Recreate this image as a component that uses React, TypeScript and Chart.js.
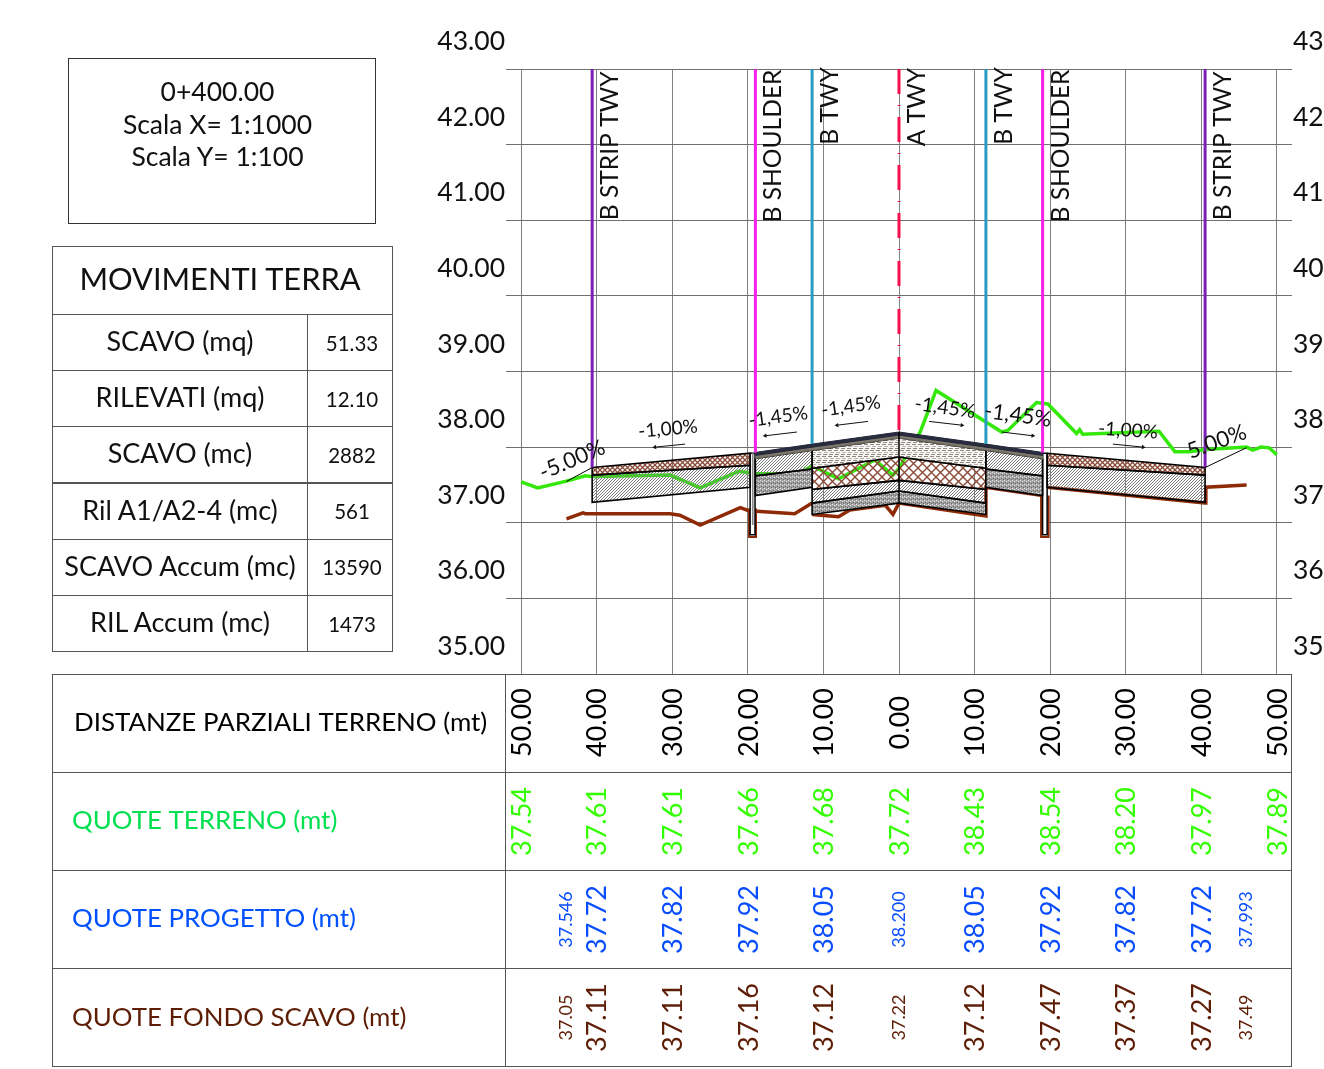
import React, { useEffect, useRef } from "react";
import { Chart, registerables } from "chart.js";

Chart.register(...registerables);

const FONT = "Lato";

// ---- data ----
const stations = [-50, -40, -30, -20, -10, 0, 10, 20, 30, 40, 50];
const distanze = ["50.00", "40.00", "30.00", "20.00", "10.00", "0.00", "10.00", "20.00", "30.00", "40.00", "50.00"];
const quoteTerreno = ["37.54", "37.61", "37.61", "37.66", "37.68", "37.72", "38.43", "38.54", "38.20", "37.97", "37.89"];
const quoteProgetto = [null, "37.72", "37.82", "37.92", "38.05", null, "38.05", "37.92", "37.82", "37.72", null];
const quoteFondo = [null, "37.11", "37.11", "37.16", "37.12", null, "37.12", "37.47", "37.37", "37.27", null];
const progettoExtra: [number, string][] = [[-44, "37.546"], [0, "38.200"], [46, "37.993"]];
const fondoExtra: [number, string][] = [[-44, "37.05"], [0, "37.22"], [46, "37.49"]];

const leftTicks = [43, 42, 41, 40, 39, 38, 37, 36, 35];

type P = [number, number];

const terrain: P[] = [[-50, 37.54], [-47.8, 37.46], [-44, 37.55], [-41.5, 37.62], [-40.6, 37.61], [-30.3, 37.63], [-26.3, 37.46], [-21.2, 37.68], [-19, 37.65], [-13.5, 37.64], [-11.5, 37.75], [-8, 37.58], [-3.2, 37.83], [-0.8, 37.63], [0, 37.72], [2.8, 38.2], [4.9, 38.75], [13.6, 38.2], [14.4, 38.22], [18.2, 38.59], [19.7, 38.57], [23.5, 38.18], [23.9, 38.23], [24.3, 38.17], [34.4, 38.21], [36.5, 37.94], [38.4, 37.94], [40.5, 37.97], [46, 38.0], [46.8, 37.96], [47.9, 38.0], [49, 37.99], [50, 37.9]];
const fondoLeft: P[] = [[-44, 37.05], [-41.8, 37.13], [-41.5, 37.12], [-30.3, 37.12], [-29, 37.1], [-26.3, 36.97], [-21, 37.2], [-19.9, 37.16], [-13.8, 37.12], [-11.5, 37.26]];
const fondoMid: P[] = [[-11.5, 37.11], [-8, 37.08], [-6.5, 37.17], [-1.8, 37.23], [-0.8, 37.11], [0, 37.26], [11.5, 37.09], [11.5, 37.47], [19, 37.36]];
const fondoRight: P[] = [[19.6, 37.47], [40.5, 37.26], [40.6, 37.47], [46, 37.5]];
const slopeLeft: P[] = [[-44, 37.546], [-40.6, 37.73]];
const slopeRight: P[] = [[40.5, 37.73], [46, 37.993]];

const asphalt: P[] = [[-19, 37.93], [-11.5, 38.04], [0, 38.2], [11.5, 38.04], [19, 37.93], [19, 37.89], [11.5, 38.0], [0, 38.16], [-11.5, 38.0], [-19, 37.89]];
const binder: P[] = [[-19, 37.89], [-11.5, 38.0], [0, 38.16], [11.5, 38.0], [19, 37.89], [19, 37.85], [11.5, 37.96], [0, 38.12], [-11.5, 37.96], [-19, 37.85]];
const brownL: P[] = [[-40.6, 37.73], [-19.7, 37.92], [-19.7, 37.76], [-40.6, 37.63], [-40.6, 37.73]];
const hatchL: P[] = [[-40.6, 37.63], [-19.7, 37.76], [-19.7, 37.47], [-40.6, 37.27], [-40.6, 37.63]];
const brownR: P[] = [[19.6, 37.92], [40.5, 37.73], [40.5, 37.63], [19.6, 37.76], [19.6, 37.92]];
const hatchR: P[] = [[19.6, 37.76], [40.5, 37.63], [40.5, 37.27], [19.6, 37.47], [19.6, 37.76]];
const midHatchL: P[] = [[-19, 37.85], [-11.5, 37.96], [-11.5, 37.71], [-19, 37.62], [-19, 37.85]];
const midDotL: P[] = [[-19, 37.62], [-11.5, 37.71], [-11.5, 37.47], [-19, 37.36], [-19, 37.62]];
const midHatchR: P[] = [[11.5, 37.96], [19, 37.85], [19, 37.62], [11.5, 37.71], [11.5, 37.96]];
const midDotR: P[] = [[11.5, 37.71], [19, 37.62], [19, 37.36], [11.5, 37.47], [11.5, 37.71]];
const coreStripes: P[] = [[-11.5, 37.96], [0, 38.12], [11.5, 37.96], [11.5, 37.72], [0, 37.87], [-11.5, 37.72], [-11.5, 37.96]];
const coreBrown: P[] = [[-11.5, 37.72], [0, 37.87], [11.5, 37.72], [11.5, 37.44], [0, 37.56], [-11.5, 37.44], [-11.5, 37.72]];
const coreHatch: P[] = [[-11.5, 37.44], [0, 37.56], [11.5, 37.44], [11.5, 37.26], [0, 37.42], [-11.5, 37.26], [-11.5, 37.44]];
const coreDot: P[] = [[-11.5, 37.26], [0, 37.42], [11.5, 37.26], [11.5, 37.11], [0, 37.26], [-11.5, 37.11], [-11.5, 37.26]];
const centerCut: P[] = [[0, 38.2], [0, 37.26]];
const slitL: P[] = [[-19.7, 37.92], [-19.05, 37.92], [-19.05, 36.84], [-19.7, 36.84], [-19.7, 37.92]];
const slitR: P[] = [[19, 37.92], [19.6, 37.92], [19.6, 36.84], [19, 36.84], [19, 37.92]];
const trenchL: P[] = [[-19.84, 37.19], [-19.84, 36.81], [-18.92, 36.81], [-18.92, 37.19]];
const trenchR: P[] = [[18.8, 37.36], [18.8, 36.81], [19.8, 36.81], [19.8, 37.36]];
const slitCoreL: P[] = [[-19.35, 37.92], [-19.35, 36.97]];

const purpleL: P[] = [[-40.6, 43], [-40.6, 37.73]];
const magentaL: P[] = [[-19, 43], [-19, 37.93]];
const cyanL: P[] = [[-11.5, 43], [-11.5, 38.04]];
const redCenter: P[] = [[0, 43], [0, 38.2]];
const cyanR: P[] = [[11.5, 43], [11.5, 38.04]];
const magentaR: P[] = [[19, 43], [19, 37.93]];
const purpleR: P[] = [[40.5, 43], [40.5, 37.73]];

const arrows: [P, P][] = [
  [[-28.3, 38.04], [-32.3, 38.0]],
  [[-13.5, 38.2], [-17.7, 38.15]],
  [[-4.1, 38.34], [-8.2, 38.29]],
  [[3.97, 38.34], [8.33, 38.29]],
  [[13.6, 38.2], [17.7, 38.15]],
  [[28.3, 38.04], [32.3, 38.0]],
];

const slopeTexts: [string, number, number, number, number][] = [
  ["-5.00%", -43.25, 37.83, -23, 22],
  ["-1,00%", -30.56, 38.24, -5, 19],
  ["-1,45%", -16, 38.4, -8, 19],
  ["-1,45%", -6.35, 38.54, -8, 19],
  ["-1,45%", 6.08, 38.52, 8, 19.5],
  ["-1,45%", 15.74, 38.42, 8, 21.5],
  ["-1,00%", 30.3, 38.22, 4, 19],
  ["5.00%", 42.06, 38.07, -20, 22],
];

const stationLabels: [string, number, number][] = [
  ["B STRIP TWY", -40.6, 41.0],
  ["B SHOULDER", -19, 40.97],
  ["B TWY", -11.5, 42.0],
  ["A TWY", 0, 41.98],
  ["B TWY", 11.5, 42.0],
  ["B SHOULDER", 19, 40.97],
  ["B STRIP TWY", 40.5, 41.0],
];

const infoLines = ["0+400.00", "Scala X= 1:1000", "Scala Y= 1:100"];
const earthLabels = ["SCAVO (mq)", "RILEVATI (mq)", "SCAVO (mc)", "Ril A1/A2-4 (mc)", "SCAVO Accum (mc)", "RIL Accum (mc)"];
const earthValues = ["51.33", "12.10", "2882", "561", "13590", "1473"];

// ---- layout / style ----
const COL_GREEN = "#33ff00";
const COL_BLUE = "#0a4dff";
const COL_BROWN = "#5e1d05";
const ROW_Y = [674, 772, 870, 968, 1066];
const ROW_MID = [722.5, 821.5, 919.5, 1017.5];
const TITLE_MID = [722.5, 820.5, 918.5, 1017.5];

function pattern(size: number, paint: (c: CanvasRenderingContext2D) => void) {
  const cv = document.createElement("canvas");
  cv.width = size;
  cv.height = size;
  const c = cv.getContext("2d")!;
  paint(c);
  return c.createPattern(cv, "repeat")!;
}

function makePatterns() {
  const hatch = pattern(3, (c) => {
    c.strokeStyle = "#7a7a7a";
    c.lineWidth = 1;
    c.beginPath();
    c.moveTo(-1, 4); c.lineTo(4, -1);
    c.moveTo(-1, 1); c.lineTo(1, -1);
    c.moveTo(2, 4); c.lineTo(4, 2);
    c.stroke();
  });
  const fineCross = pattern(5, (c) => {
    c.strokeStyle = "#8a4a38";
    c.lineWidth = 1.3;
    c.beginPath();
    c.moveTo(-1, 6); c.lineTo(6, -1);
    c.moveTo(-1, -1); c.lineTo(6, 6);
    c.stroke();
  });
  const cross = pattern(9, (c) => {
    c.strokeStyle = "#8a4a38";
    c.lineWidth = 1.4;
    c.beginPath();
    c.moveTo(-1, 10); c.lineTo(10, -1);
    c.moveTo(-1, -1); c.lineTo(10, 10);
    c.stroke();
  });
  const dots = pattern(4, (c) => {
    c.fillStyle = "#a0a0a0";
    c.fillRect(0, 0, 4, 4);
    c.fillStyle = "#ececec";
    c.fillRect(0, 0, 1, 1);
    c.fillRect(2, 1, 1, 1);
    c.fillStyle = "#6a6a6a";
    c.fillRect(1, 2, 1, 1);
    c.fillRect(3, 3, 1, 1);
  });
  const stripes = pattern(6, (c) => {
    c.fillStyle = "#f7f6f4";
    c.fillRect(0, 0, 6, 6);
    c.fillStyle = "#8e877c";
    c.fillRect(0, 0, 4, 1);
    c.fillStyle = "#b9b5ae";
    c.fillRect(2, 2, 4, 1);
    c.fillStyle = "#8e877c";
    c.fillRect(1, 4, 4, 1);
  });
  return { hatch, cross, fineCross, dots, stripes };
}

const xy = (a: P[]) => a.map(([x, y]) => ({ x, y }));

function line(a: P[], color: string, width: number, extra: object = {}) {
  return { data: xy(a), borderColor: color, borderWidth: width, showLine: true, pointRadius: 0, fill: false, tension: 0, ...extra };
}
function poly(a: P[], bg: any, stroke = "#000", width = 1.6) {
  return { data: xy(a), borderColor: stroke, borderWidth: width, backgroundColor: bg, showLine: true, pointRadius: 0, fill: "shape", tension: 0 };
}

function textRot(c: CanvasRenderingContext2D, s: string, x: number, y: number, deg: number, font: string, color: string, align: CanvasTextAlign = "center") {
  c.save();
  c.translate(x, y);
  c.rotate((deg * Math.PI) / 180);
  c.font = font;
  c.fillStyle = color;
  c.textAlign = align;
  c.textBaseline = "middle";
  c.fillText(s, 0, 0);
  c.restore();
}

const sheetPlugin = {
  id: "sheet",
  afterDraw(chart: any) {
    const c: CanvasRenderingContext2D = chart.ctx;
    const X = chart.scales.x;
    const Y = chart.scales.y;
    // station labels
    for (const [s, xv, yv] of stationLabels) {
      textRot(c, s, X.getPixelForValue(xv) + 18, Y.getPixelForValue(yv), -90, `24.6px ${FONT}`, "#111", "left");
    }
    // slope labels
    for (const [s, xv, yv, a, size] of slopeTexts) {
      textRot(c, s, X.getPixelForValue(xv), Y.getPixelForValue(yv), a, `${size}px ${FONT}`, "#111");
    }
    // lower table grid
    c.save();
    c.strokeStyle = "#555";
    c.lineWidth = 1;
    c.beginPath();
    for (const y of ROW_Y) {
      c.moveTo(52, y + 0.5);
      c.lineTo(1292, y + 0.5);
    }
    c.moveTo(52.5, ROW_Y[0]);
    c.lineTo(52.5, ROW_Y[4]);
    c.moveTo(505.5, ROW_Y[0]);
    c.lineTo(505.5, ROW_Y[4]);
    c.moveTo(1291.5, ROW_Y[0]);
    c.lineTo(1291.5, ROW_Y[4]);
    c.stroke();
    c.restore();
    // row titles
    const titles: [string, string, number][] = [
      ["DISTANZE PARZIALI TERRENO (mt)", "#000", 74],
      ["QUOTE TERRENO (mt)", "#00e050", 72],
      ["QUOTE PROGETTO (mt)", "#0050ff", 72],
      ["QUOTE FONDO SCAVO (mt)", COL_BROWN, 72],
    ];
    titles.forEach(([s, col, x], i) => textRot(c, s, x, TITLE_MID[i], 0, `25.9px ${FONT}`, col, "left"));
    // row numbers
    const big = `27px ${FONT}`;
    const small = `18px ${FONT}`;
    const rows: [(string | null)[], string][] = [
      [distanze, "#000"],
      [quoteTerreno, COL_GREEN],
      [quoteProgetto, COL_BLUE],
      [quoteFondo, COL_BROWN],
    ];
    rows.forEach(([vals, col], r) => {
      vals.forEach((v, i) => {
        if (v) textRot(c, v, X.getPixelForValue(stations[i]) + 1, ROW_MID[r], -90, big, col);
      });
    });
    for (const [xv, s] of progettoExtra) textRot(c, s, X.getPixelForValue(xv), ROW_MID[2], -90, small, COL_BLUE);
    for (const [xv, s] of fondoExtra) textRot(c, s, X.getPixelForValue(xv), ROW_MID[3], -90, small, COL_BROWN);
  },
};

function Boxed({ left, top, width, height, children, dx = 0, dy = 0 }: any) {
  return (
    <div style={{ position: "absolute", left, top, width, height, boxSizing: "border-box", border: "1px solid #555", display: "flex", alignItems: "center", justifyContent: "center", fontFamily: FONT, color: "#111", textAlign: "center" }}>
      <span style={{ position: "relative", left: dx, top: dy }}>{children}</span>
    </div>
  );
}

export default function App() {
  const ref = useRef<HTMLCanvasElement>(null);
  useEffect(() => {
    const p = makePatterns();
    const arrowSets = arrows.map(([a, b]) => ({
      data: xy([a, b]),
      borderColor: "#111",
      borderWidth: 1,
      backgroundColor: "#111",
      showLine: true,
      fill: false,
      pointStyle: "triangle",
      pointRadius: [0, 2.5],
      pointRotation: b[0] < a[0] ? 264 : 96,
      pointBorderWidth: 0,
    }));
    // first dataset is painted last (on top)
    const datasets: any[] = [
      ...arrowSets,
      line(slopeLeft, "#000", 1),
      line(slopeRight, "#000", 1),
      line(purpleL, "#7b1fb5", 3),
      line(magentaL, "#f521e8", 3),
      line(cyanL, "#2a9bc4", 3),
      line(redCenter, "#f5104f", 3, { borderDash: [25, 11, 1, 11] }),
      line(cyanR, "#2a9bc4", 3),
      line(magentaR, "#f521e8", 3),
      line(purpleR, "#7b1fb5", 3),
      line(centerCut, "#000", 1.5),
      poly(asphalt, "#2a2d3e", "#23253a", 1),
      poly(binder, "#7c786c", "#6f6b60", 1),
      poly(brownL, p.fineCross),
      poly(hatchL, p.hatch),
      poly(brownR, p.fineCross),
      poly(hatchR, p.hatch),
      poly(midHatchL, p.hatch),
      poly(midDotL, p.dots),
      poly(midHatchR, p.hatch),
      poly(midDotR, p.dots),
      poly(coreStripes, p.stripes),
      poly(coreBrown, p.cross),
      poly(coreHatch, p.hatch),
      poly(coreDot, p.dots),
      line(slitCoreL, "#888", 1),
      poly(slitL, "#ffffff", "#000", 1.5),
      poly(slitR, "#ffffff", "#000", 1.5),
      line(trenchL, "#8f2a06", 2),
      line(trenchR, "#8f2a06", 2),
      line(terrain, "#35e80c", 3.5),
      line(fondoLeft, "#8f2a06", 3.5),
      line(fondoMid, "#8f2a06", 3.5),
      line(fondoRight, "#8f2a06", 3.5),
    ];
    const chart = new Chart(ref.current!, {
      type: "scatter",
      data: { datasets },
      plugins: [sheetPlugin],
      options: {
        responsive: false,
        animation: false,
        devicePixelRatio: 1,
        layout: { padding: { left: 436, right: 0, top: 69, bottom: 395 } },
        plugins: { legend: { display: false }, tooltip: { enabled: false } },
        events: [],
        scales: {
          x: {
            type: "linear",
            min: -52,
            max: 52,
            afterBuildTicks: (s: any) => {
              s.ticks = stations.map((value) => ({ value }));
            },
            ticks: { display: false },
            border: { display: false },
            grid: { color: "#808080", lineWidth: 1, drawTicks: false },
          },
          y: {
            type: "linear",
            position: "left",
            min: 35,
            max: 43,
            afterBuildTicks: (s: any) => {
              s.ticks = leftTicks.map((value) => ({ value }));
            },
            afterFit: (s: any) => {
              s.width = 70;
            },
            ticks: {
              color: "#111",
              font: { family: FONT, size: 26.5 },
              padding: 1,
              labelOffset: -27.5,
              callback: (v: any) => Number(v).toFixed(2),
            },
            border: { display: false },
            grid: { color: "#707070", lineWidth: 1, drawTicks: false },
          },
          yR: {
            type: "linear",
            position: "right",
            min: 35,
            max: 43,
            afterBuildTicks: (s: any) => {
              s.ticks = leftTicks.map((value) => ({ value }));
            },
            afterFit: (s: any) => {
              s.width = 32;
            },
            ticks: {
              color: "#111",
              font: { family: FONT, size: 26.5 },
              padding: 1,
              labelOffset: -27.5,
              callback: (v: any) => String(v),
            },
            border: { display: false },
            grid: { display: false, drawTicks: false },
          },
        },
      },
    } as any);
    return () => chart.destroy();
  }, []);

  return (
    <div style={{ position: "absolute", left: 0, top: 0, width: 1324, height: 1069, background: "#fff", overflow: "hidden" }}>
      <canvas ref={ref} width={1324} height={1069} style={{ position: "absolute", left: 0, top: 0, display: "block" }} />
      <div style={{ position: "absolute", left: 68, top: 58, width: 308, height: 166, boxSizing: "border-box", border: "1px solid #333", fontFamily: FONT, color: "#111", textAlign: "center", fontSize: 26.5, lineHeight: "32.5px", paddingTop: 16, paddingRight: 9 }}>
        {infoLines.map((s) => (
          <div key={s}>{s}</div>
        ))}
      </div>
      <Boxed left={52} top={246} width={341} height={69} dx={-2.5} dy={-2}>
        <span style={{ fontSize: 30.8 }}>MOVIMENTI TERRA</span>
      </Boxed>
      {earthLabels.map((s, i) => (
        <React.Fragment key={s}>
          <Boxed left={52} top={314 + i * 56.2} width={256} height={57} dy={-2}>
            <span style={{ fontSize: 27 }}>{s}</span>
          </Boxed>
          <Boxed left={307} top={314 + i * 56.2} width={86} height={57} dx={2}>
            <span style={{ fontSize: 20.5 }}>{earthValues[i]}</span>
          </Boxed>
        </React.Fragment>
      ))}
    </div>
  );
}
